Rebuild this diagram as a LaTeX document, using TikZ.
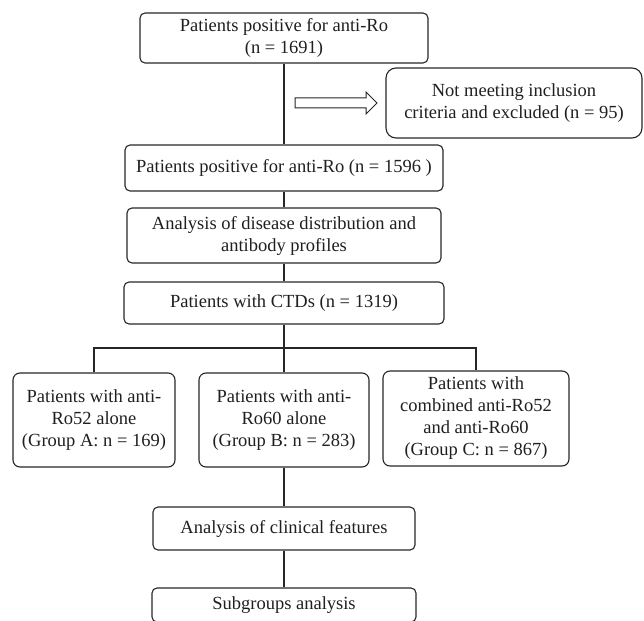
\documentclass[tikz,border=0pt]{standalone}
\usepackage{fontspec}
\setmainfont{Liberation Serif}
\begin{document}
\begin{tikzpicture}[x=1pt,y=-1pt,
  line width=1.1pt,
  every node/.style={font=\fontsize{18.5}{22}\selectfont, text=black!88},
  boxn/.style={draw=black!85, rounded corners=5pt, align=center, inner sep=0pt},
  grp/.style={boxn, rounded corners=7pt},
  conn/.style={draw=black!85, line width=1.1pt}
]
\useasboundingbox (0,0) rectangle (644,620);
\clip (0,0) rectangle (644,620);

\node[boxn, minimum width=288pt, minimum height=50pt] (b1) at (284,38) {Patients positive for anti-Ro\\(n = 1691)};
\node[boxn, rounded corners=10pt, minimum width=256pt, minimum height=70pt] (ex) at (514,103) {Not meeting inclusion\\criteria and excluded (n = 95)};
\node[boxn, minimum width=318pt, minimum height=46pt] (b2) at (284,168) {Patients positive for anti-Ro (n = 1596 )};
\node[boxn, minimum width=314pt, minimum height=55pt] (b3) at (284,235.5) {Analysis of disease distribution and\\antibody profiles};
\node[boxn, minimum width=320pt, minimum height=42pt] (b4) at (284,303) {Patients with CTDs (n = 1319)};
\node[grp, minimum width=162pt, minimum height=94pt] (ga) at (94,420) {Patients with anti-\\Ro52 alone\\(Group A: n = 169)};
\node[grp, minimum width=170pt, minimum height=94pt] (gb) at (284,420) {Patients with anti-\\Ro60 alone\\(Group B: n = 283)};
\node[grp, minimum width=186pt, minimum height=95pt] (gc) at (476,418.5) {Patients with\\combined anti-Ro52\\and anti-Ro60\\(Group C: n = 867)};
\node[boxn, minimum width=262pt, minimum height=43pt] (b5) at (284,528.5) {Analysis of clinical features};
\node[boxn, minimum width=264pt, minimum height=34pt] (b6) at (284,605) {Subgroups analysis};

\coordinate (bus) at (284,348);

\draw[conn] (b1.south) -- (b2.north);
\draw[conn] (b2.south) -- (b3.north);
\draw[conn] (b3.south) -- (b4.north);
\draw[conn] (b4.south) -- (bus) -- (gb.north);
\draw[conn] (ga.north) |- (bus) -| (gc.north);
\draw[conn] (gb.south) -- (b5.north);
\draw[conn] (b5.south) -- (b6.north);

% hollow block arrow
\draw[draw=black!85, line width=1pt, fill=white]
  (295,98) -- (366,98) -- (366,92) -- (377,103) -- (366,114) -- (366,108) -- (295,108) -- cycle;
\end{tikzpicture}
\end{document}
